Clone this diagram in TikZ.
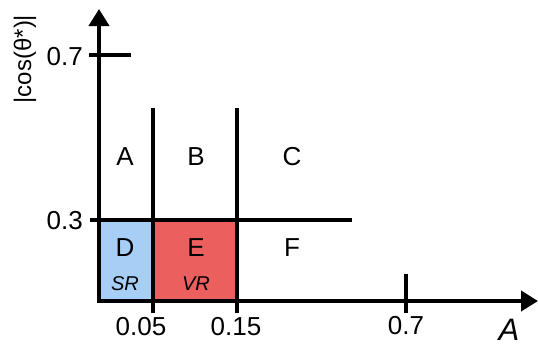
\documentclass[tikz,border=0pt]{standalone}
\usepackage{fontspec}
\setmainfont{Liberation Sans}
\usetikzlibrary{arrows.meta}
\definecolor{srblue}{HTML}{A7CFF6}
\definecolor{vrred}{HTML}{EC5F5F}
\begin{document}
\begin{tikzpicture}[x=1pt,y=-1pt,
  thick line/.style={line width=4pt},
  axis/.style={line width=4pt,-{Triangle[length=17pt,width=20pt]}},
  lab/.style={font=\fontsize{26}{26}\selectfont,inner sep=0pt},
  sublab/.style={font=\fontsize{20}{20}\selectfont\itshape,inner sep=0pt},
  ticklab/.style={font=\fontsize{26}{26}\selectfont,inner sep=0pt}]
\useasboundingbox (0,0) rectangle (538,346);
% coordinates
\coordinate (o) at (99,301);
\coordinate (ytip) at (99,9);
\coordinate (xstart) at (97,301);
\coordinate (xtip) at (538,301);
% regions
\fill[srblue] (99,220) rectangle (153,301);
\fill[vrred] (153,220) rectangle (237,301);
% grid lines
\coordinate (v1t) at (153,108); \coordinate (v1b) at (153,313);
\coordinate (v2t) at (237,108); \coordinate (v2b) at (237,313);
\coordinate (h1l) at (90,220); \coordinate (h1r) at (352,220);
\coordinate (t7l) at (89,55); \coordinate (t7r) at (131,55);
\coordinate (x7t) at (406,274); \coordinate (x7b) at (406,313);
\draw[thick line] (v1t) -- (v1b);
\draw[thick line] (v2t) -- (v2b);
\draw[thick line] (h1l) -- (h1r);
\draw[thick line] (t7l) -- (t7r);
\draw[thick line] (x7t) -- (x7b);
% axes
\draw[axis] (o) -- (ytip);
\draw[axis] (xstart) -- (xtip);
% region labels
\node[lab] (A) at (125,157) {A};
\node[lab] (B) at (196,157) {B};
\node[lab] (C) at (292,157) {C};
\node[lab] (D) at (125,248) {D};
\node[lab] (E) at (196,248) {E};
\node[lab] (F) at (292,248) {F};
\node[sublab] (SR) at (125,284) {SR};
\node[sublab] (VR) at (196,284) {VR};
% tick labels
\node[ticklab,anchor=east] (y07) at (83,57) {0.7};
\node[ticklab,anchor=east] (y03) at (83,221) {0.3};
\node[ticklab] (x005) at (141,327) {0.05};
\node[ticklab] (x015) at (236,327) {0.15};
\node[ticklab] (x07) at (406,326) {0.7};
% axis labels
\node[font=\fontsize{31}{31}\selectfont\itshape,inner sep=0pt] (xl) at (509,330) {A};
\node[font=\fontsize{24}{24}\selectfont,inner sep=0pt,rotate=90] (yl) at (25,59) {|cos(θ*)|};
\end{tikzpicture}
\end{document}
